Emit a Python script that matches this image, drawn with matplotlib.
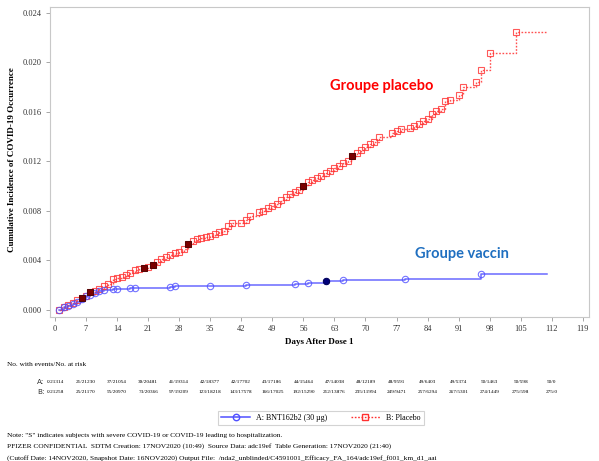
import matplotlib
matplotlib.use("Agg")
import matplotlib.pyplot as plt
import matplotlib.transforms as mtransforms
from matplotlib.lines import Line2D

# Donnees (jours, incidence cumulee)
placebo_days = [1, 2, 3, 4, 5, 6, 7, 8, 9, 10, 11, 12, 13, 14, 15, 16, 17, 18, 19, 20,
                21, 22, 23, 24, 25, 26, 27, 28, 29, 30, 31, 32, 33, 34, 35, 36, 37, 38, 39, 40,
                42, 43, 44, 46, 47, 48, 49, 50, 51, 52, 53, 54, 55, 56, 57, 58, 59, 60, 61, 62,
                63, 64, 65, 66, 67, 68, 69, 70, 71, 72, 73, 76, 77, 78, 80, 81, 82, 83, 84, 85,
                86, 87, 88, 89, 91, 92, 95, 96, 98, 104]
placebo_vals = [0.0000, 0.00024, 0.0004, 0.0006, 0.0008, 0.0010, 0.00115, 0.00145, 0.0015, 0.0017,
                0.0019, 0.0021, 0.0025, 0.0026, 0.0027, 0.0028, 0.0030, 0.0032, 0.0033, 0.0034,
                0.0035, 0.0036, 0.0039, 0.0041, 0.0043, 0.0044, 0.0046, 0.00465, 0.0049, 0.0053,
                0.0056, 0.0057, 0.0058, 0.0059, 0.0060, 0.0061, 0.0063, 0.0064, 0.0068, 0.0070,
                0.00705, 0.0073, 0.0076, 0.0079, 0.0080, 0.0082, 0.0084, 0.0086, 0.0089, 0.0091,
                0.0094, 0.0095, 0.0097, 0.0100, 0.0103, 0.0105, 0.0107, 0.0108, 0.0111, 0.0112,
                0.0115, 0.0116, 0.0119, 0.0120, 0.0124, 0.0127, 0.0129, 0.0132, 0.0134, 0.0136,
                0.0140, 0.0143, 0.01446, 0.0146, 0.0147, 0.01487, 0.0150, 0.0153, 0.0154, 0.0158,
                0.0161, 0.0162, 0.0169, 0.0170, 0.0174, 0.0180, 0.0184, 0.0194, 0.0208, 0.0225]
placebo_severe = [6, 8, 20, 22, 30, 56, 67]

vaccine_days = [1, 2, 3, 4, 5, 6, 7, 8, 9, 10, 11, 13, 14, 17, 18, 26, 27, 35, 43, 54,
                57, 61, 65, 79, 96]
vaccine_vals = [0.0000, 0.0002, 0.00035, 0.0005, 0.00065, 0.0009, 0.0011, 0.0012, 0.0014, 0.0015,
                0.0016, 0.00168, 0.00172, 0.00176, 0.0018, 0.00185, 0.0019, 0.00195, 0.0020, 0.0021,
                0.0022, 0.0023, 0.0024, 0.0025, 0.0029]
vaccine_severe = [61]

last_day = 111

x_ticks = list(range(0, 120, 7))
y_ticks = [0.000, 0.004, 0.008, 0.012, 0.016, 0.020, 0.024]

risk_a = ["0/21314", "21/21230", "37/21054", "39/20481", "41/19314", "42/18377", "42/17702",
          "43/17186", "44/15464", "47/14038", "48/12189", "48/9591", "49/6403", "49/5374",
          "50/1463", "50/598", "50/0"]
risk_b = ["0/21258", "25/21170", "55/20970", "73/20366", "97/19209", "123/18218", "143/17578",
          "166/17025", "192/15290", "212/13876", "235/11994", "249/9471", "257/6294", "267/5301",
          "274/1449", "275/598", "275/0"]

notes = [
    'Note: "S" indicates subjects with severe COVID-19 or COVID-19 leading to hospitalization.',
    "PFIZER CONFIDENTIAL  SDTM Creation: 17NOV2020 (10:49)  Source Data: adc19ef  Table Generation: 17NOV2020 (21:40)",
    "(Cutoff Date: 14NOV2020, Snapshot Date: 16NOV2020) Output File:  /nda2_unblinded/C4591001_Efficacy_FA_164/adc19ef_f001_km_d1_aai",
]

serif = ["Liberation Serif", "DejaVu Serif"]
red = "#ff3030"
blue = "#5050ff"

W, H = 599, 461
fig = plt.figure(figsize=(W / 100, H / 100), dpi=100)
ax = fig.add_axes([50 / W, 1 - 317 / H, 539 / W, 310 / H])

# Courbes en escalier
ax.step(placebo_days + [last_day], placebo_vals + [placebo_vals[-1]], where="post",
        color=red, linestyle=(0, (1.2, 1.2)), linewidth=1.0, alpha=0.85)
ax.step(vaccine_days + [last_day], vaccine_vals + [vaccine_vals[-1]], where="post",
        color=blue, linewidth=1.1, alpha=0.85)

ax.plot(placebo_days, placebo_vals, linestyle="none", marker="s", markersize=4.3,
        markerfacecolor="none", markeredgecolor=red, markeredgewidth=0.8, alpha=0.8)
ax.plot(vaccine_days, vaccine_vals, linestyle="none", marker="o", markersize=4.6,
        markerfacecolor="none", markeredgecolor=blue, markeredgewidth=0.8, alpha=0.8)

# Cas severes (marqueurs pleins)
sev_p = [placebo_vals[placebo_days.index(d)] for d in placebo_severe]
ax.plot(placebo_severe, sev_p, linestyle="none", marker="s", markersize=4.3,
        markerfacecolor="#7a0000", markeredgecolor="#400000", markeredgewidth=0.6)
sev_v = [vaccine_vals[vaccine_days.index(d)] for d in vaccine_severe]
ax.plot(vaccine_severe, sev_v, linestyle="none", marker="o", markersize=4.6,
        markerfacecolor="#00007a", markeredgecolor="#000040", markeredgewidth=0.6)

ax.set_xlim(-1.13, 120.4)
ax.set_ylim(-0.00057, 0.02448)
ax.set_xticks(x_ticks)
ax.set_yticks(y_ticks)
ax.set_yticklabels([f"{v:.3f}" for v in y_ticks])
ax.tick_params(direction="out", length=3, width=0.6, color="#999999",
               labelsize=6, labelcolor="#333333", pad=3)
for lab in ax.get_xticklabels() + ax.get_yticklabels():
    lab.set_family(serif)
for sp in ax.spines.values():
    sp.set_color("#c8c8c8")
    sp.set_linewidth(0.8)

fig.text(12 / W, 1 - 160 / H, "Cumulative Incidence of COVID-19 Occurrence", rotation=90,
         ha="center", va="center", fontsize=6.5, fontweight="bold", family=serif)
fig.text(319 / W, 1 - 342 / H, "Days After Dose 1", ha="center", va="center",
         fontsize=6.5, fontweight="bold", family=serif)

fig.text(382 / W, 1 - 86 / H, "Groupe placebo", ha="center", va="center", color="#ff0000",
         fontsize=10.5, fontweight="bold", family="Lato")
fig.text(462 / W, 1 - 254 / H, "Groupe vaccin", ha="center", va="center", color="#1f6fc0",
         fontsize=10.5, fontweight="bold", family="Lato")

# Tableau des sujets a risque
fig.text(7 / W, 1 - 364 / H, "No. with events/No. at risk", ha="left", va="center",
         fontsize=5.2, family=serif)
trans = mtransforms.blended_transform_factory(ax.transData, fig.transFigure)
for label, row, y in [("A:", risk_a, 382), ("B:", risk_b, 392)]:
    fig.text(37 / W, 1 - y / H, label, ha="left", va="center", fontsize=5.2, family="DejaVu Sans",
             color="#333333")
    for d, s in zip(x_ticks, row):
        ax.text(d, 1 - y / H, s, transform=trans, ha="center", va="center",
                fontsize=3.8, family=serif, clip_on=False)

# Legende
handles = [
    Line2D([], [], color=blue, linewidth=1.1, marker="o", markersize=4.6,
           markerfacecolor="none", markeredgecolor=blue),
    Line2D([], [], color=red, linestyle=(0, (1.2, 1.2)), linewidth=1.0, marker="s",
           markersize=4.3, markerfacecolor="none", markeredgecolor=red),
]
leg = fig.legend(handles, ["A: BNT162b2 (30 \u00b5g)", "B: Placebo"], loc="center",
                 bbox_to_anchor=(321 / W, 1 - 418 / H), ncol=2, fancybox=False,
                 prop={"family": serif, "size": 5.8}, handlelength=3.5, columnspacing=3,
                 borderpad=0.4, handletextpad=0.8)
leg.get_frame().set_edgecolor("#c8c8c8")
leg.get_frame().set_linewidth(0.8)

for i, line in enumerate(notes):
    fig.text(7 / W, 1 - (435 + 11.5 * i) / H, line, ha="left", va="center",
             fontsize=5.3, family=serif)

fig.savefig("out.png", dpi=100)
